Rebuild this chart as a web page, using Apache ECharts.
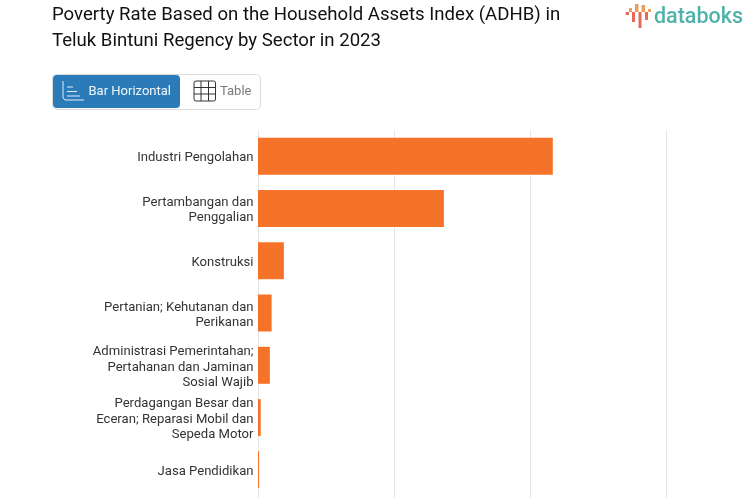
<!DOCTYPE html>
<html><head><meta charset="utf-8">
<style>html,body{margin:0;padding:0;background:#fff}#c{width:753px;height:498px}</style>
<script src="https://cdn.jsdelivr.net/npm/echarts@6/dist/echarts.min.js"></script>
</head><body><div id="c"></div>
<script>
const categories = ["Industri Pengolahan","Pertambangan dan\nPenggalian","Konstruksi","Pertanian; Kehutanan dan\nPerikanan","Administrasi Pemerintahan;\nPertahanan dan Jaminan\nSosial Wajib","Perdagangan Besar dan\nEceran; Reparasi Mobil dan\nSepeda Motor","Jasa Pendidikan"];
const values = [21.65,13.65,1.9,1.0,0.87,0.2,0.08];
const titleLines = "Poverty Rate Based on the Household Assets Index (ADHB) in\nTeluk Bintuni Regency by Sector in 2023";
const logoBars = [[625.7,12,3.3,3,'#e8675a'],[629,8,3,4,'#ee9f5f'],[632,12,3,10,'#e8675a'],[635,4,3.5,8,'#ee9f5f'],[638.5,12,3,16,'#e8675a'],[641.5,5,3.5,7,'#ee9f5f'],[645,12,3,8,'#e8675a'],[648,9,3,3,'#ee9f5f']];
const F = 'Roboto';
const chart = echarts.init(document.getElementById('c'), null, {renderer:'canvas'});
const graphics = [
 {type:'text',left:52,top:2.5,style:{text:titleLines,font:'400 18.6px Roboto',fill:'#111',lineHeight:26}},
 {type:'rect',shape:{x:52.5,y:74.5,width:208,height:35,r:4},style:{fill:'#fff',stroke:'#dcdcdc',lineWidth:1}},
 {type:'rect',shape:{x:53,y:75,width:127,height:33,r:4},style:{fill:'#2b7bb9'}},
 {type:'text',x:88.5,y:85.5,style:{text:'Bar Horizontal',font:'13px Roboto',fill:'#f2f6fa'}},
 {type:'text',x:220,y:85.5,style:{text:'Table',font:'13px Roboto',fill:'#7a7a7a'}},
 {type:'polyline',shape:{points:[[63,81],[63,98],[65,100],[84,100]]},style:{stroke:'#e3edf5',fill:null,lineWidth:1}},
 {type:'line',shape:{x1:67,y1:87,x2:73,y2:87},style:{stroke:'#e3edf5',lineWidth:1}},
 {type:'line',shape:{x1:67,y1:91.5,x2:77,y2:91.5},style:{stroke:'#e3edf5',lineWidth:1}},
 {type:'line',shape:{x1:67,y1:96,x2:80,y2:96},style:{stroke:'#e3edf5',lineWidth:1}},
 {type:'rect',shape:{x:194,y:81,width:21.5,height:20,r:2},style:{fill:'none',stroke:'#333',lineWidth:1}},
 {type:'line',shape:{x1:201,y1:81,x2:201,y2:101},style:{stroke:'#333',lineWidth:1}},
 {type:'line',shape:{x1:208.5,y1:81,x2:208.5,y2:101},style:{stroke:'#333',lineWidth:1}},
 {type:'line',shape:{x1:194,y1:87.5,x2:215.5,y2:87.5},style:{stroke:'#333',lineWidth:1}},
 {type:'line',shape:{x1:194,y1:94,x2:215.5,y2:94},style:{stroke:'#333',lineWidth:1}},
 {type:'text',x:654,y:7,style:{text:'databoks',font:'500 21.5px Roboto',fill:'#4fb3aa'}}
];
logoBars.forEach(b=>graphics.push({type:'rect',shape:{x:b[0],y:b[1],width:b[2],height:b[3]},style:{fill:b[4]}}));
chart.setOption({
 animation:false,
 textStyle:{fontFamily:F},
 graphic:graphics,
 grid:[{left:258,top:130,width:408.5,height:366},{left:258,top:132,width:408.5,height:366}],
 xAxis:[{type:'value',min:0,max:30,interval:10,axisLabel:{show:false},axisLine:{show:false},axisTick:{show:true,length:2,lineStyle:{color:'#e6e6e6',width:1}},splitLine:{show:true,lineStyle:{color:'#e6e6e6',width:1}}},
   {gridIndex:1,type:'value',min:0,max:30,show:false}],
 yAxis:[{type:'category',inverse:true,data:categories,axisLine:{show:false},axisTick:{show:false},axisLabel:{show:false}},
   {gridIndex:1,type:'category',inverse:true,data:categories,axisLine:{show:false},axisTick:{show:false},
   axisLabel:{fontFamily:F,fontSize:13.1,color:'#333',lineHeight:15.5,align:'right',margin:4.5}}],
 series:[{type:'bar',data:values,barWidth:37,itemStyle:{color:'#f57328'}}]
});
</script></body></html>
